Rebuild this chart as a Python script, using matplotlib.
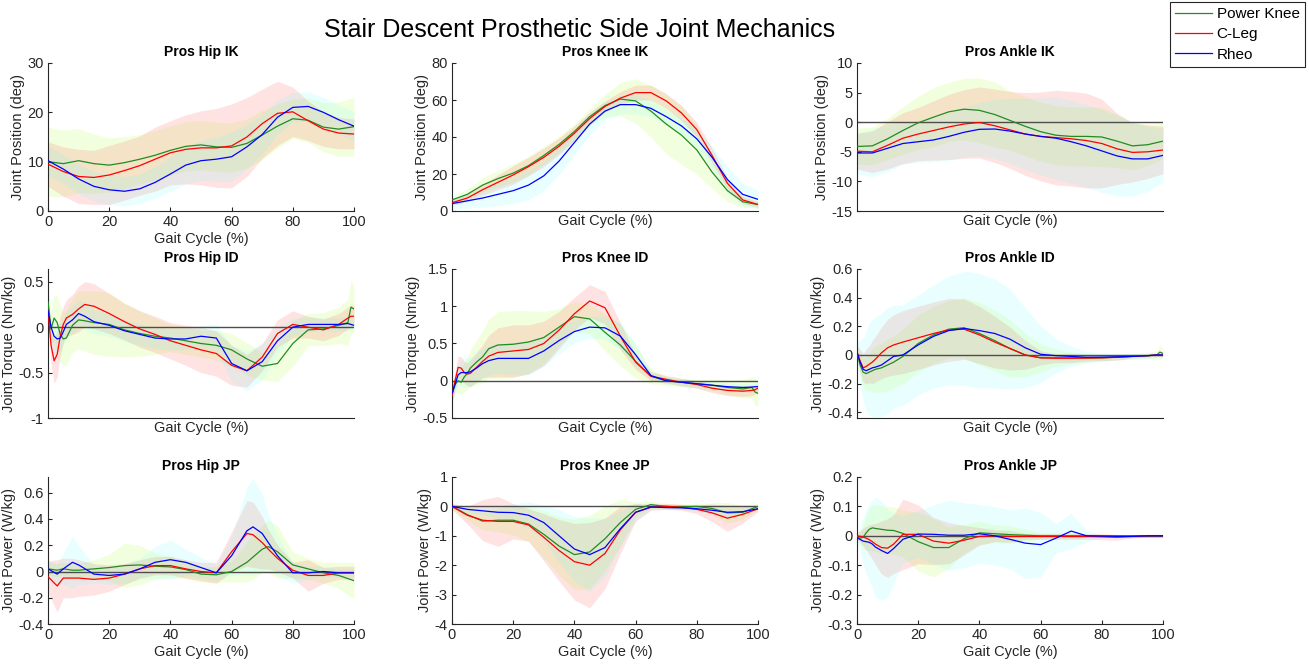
import matplotlib
matplotlib.use("Agg")
import matplotlib.pyplot as plt
from matplotlib.lines import Line2D
from matplotlib.ticker import FuncFormatter

plt.rcParams['font.family'] = ['Liberation Sans', 'DejaVu Sans']
plt.rcParams['axes.unicode_minus'] = False

# ---- gait cycle grids (%) ----
STEP5_X = [0, 5, 10, 15, 20, 25, 30, 35, 40, 45, 50, 55, 60, 65, 70, 75, 80, 85, 90, 95, 100]
ID_X = [0, 1, 2, 3, 4, 5, 6, 8, 10, 12, 15, 20, 25, 30, 35, 40, 45, 50, 55, 60,
        65, 70, 75, 80, 85, 90, 95, 98, 99, 100]
HIP_JP_X = [0, 3, 5, 8, 10, 15, 20, 25, 30, 35, 40, 45, 50, 55, 60, 65, 67, 70, 72, 75,
            80, 85, 90, 95, 100]

devices = ["Power Knee", "C-Leg", "Rheo"]

# ---- Hip IK (deg) ----
hip_ik_pk = [10.0, 9.6, 10.2, 9.6, 9.3, 9.8, 10.5, 11.3, 12.3, 13.1, 13.4, 13.0, 12.9, 13.7, 15.4, 17.2, 18.7, 18.4, 17.0, 16.6, 17.1]
hip_ik_pk_sd = [7.0, 6.8, 6.5, 6.0, 5.5, 5.3, 5.0, 5.0, 5.0, 5.0, 5.0, 5.0, 5.0, 5.0, 5.0, 4.5, 4.0, 4.5, 5.0, 5.5, 6.0]
hip_ik_cl = [9.5, 8.0, 7.0, 6.8, 7.3, 8.2, 9.2, 10.5, 11.8, 12.5, 12.8, 12.8, 13.2, 15.0, 17.7, 19.8, 20.1, 18.3, 16.6, 15.8, 15.6]
hip_ik_cl_sd = [4.5, 5.0, 5.5, 5.5, 6.0, 6.0, 6.0, 6.5, 6.5, 7.0, 7.5, 8.0, 8.5, 8.0, 7.0, 6.5, 5.0, 4.0, 3.5, 3.2, 3.0]
hip_ik_rh = [10.2, 8.5, 6.5, 5.0, 4.3, 4.0, 4.5, 5.8, 7.5, 9.3, 10.2, 10.5, 11.0, 13.0, 15.5, 19.0, 21.0, 21.2, 20.0, 18.5, 17.2]
hip_ik_rh_sd = [3.0, 3.0, 3.0, 3.0, 3.0, 3.0, 3.0, 3.2, 3.5, 3.8, 4.0, 4.5, 5.0, 4.5, 4.0, 3.5, 3.0, 3.0, 3.0, 3.0, 3.0]

# ---- Hip ID (Nm/kg) ----
hip_id_pk = [0.28, -0.02, 0.10, 0.05, -0.08, -0.13, -0.12, 0.02, 0.08, 0.07, 0.05, 0.03, -0.03, -0.07, -0.10,
             -0.12, -0.15, -0.18, -0.20, -0.25, -0.35, -0.43, -0.40, -0.18, -0.03, -0.02, 0.02, 0.05, 0.22, 0.20]
hip_id_pk_sd = [0.15, 0.2, 0.25, 0.3, 0.3, 0.3, 0.3, 0.3, 0.32, 0.33, 0.35, 0.35, 0.3, 0.25, 0.2,
                0.15, 0.15, 0.15, 0.16, 0.18, 0.18, 0.15, 0.2, 0.25, 0.18, 0.18, 0.2, 0.25, 0.3, 0.25]
hip_id_cl = [0.18, -0.2, -0.37, -0.3, -0.1, 0.03, 0.1, 0.14, 0.2, 0.25, 0.23, 0.15, 0.06, -0.02, -0.08,
             -0.15, -0.2, -0.25, -0.29, -0.42, -0.48, -0.33, -0.07, 0.03, 0.0, -0.03, 0.03, 0.1, 0.12, 0.12]
hip_id_cl_sd = [0.15, 0.2, 0.25, 0.25, 0.22, 0.2, 0.2, 0.22, 0.25, 0.25, 0.25, 0.22, 0.2, 0.2, 0.2,
                0.2, 0.22, 0.25, 0.25, 0.22, 0.18, 0.15, 0.15, 0.15, 0.12, 0.12, 0.12, 0.12, 0.12, 0.12]
hip_id_rh = [0.18, 0.0, -0.1, -0.13, -0.12, -0.05, 0.03, 0.08, 0.15, 0.12, 0.06, 0.02, -0.04, -0.08, -0.12,
             -0.13, -0.13, -0.1, -0.12, -0.4, -0.48, -0.38, -0.15, 0.0, 0.03, 0.03, 0.03, 0.04, 0.03, 0.02]
hip_id_rh_sd = [0.1, 0.12, 0.15, 0.15, 0.15, 0.15, 0.15, 0.15, 0.15, 0.15, 0.13, 0.12, 0.12, 0.12, 0.12,
                0.12, 0.12, 0.12, 0.15, 0.2, 0.22, 0.2, 0.15, 0.1, 0.08, 0.07, 0.07, 0.07, 0.07, 0.07]

# ---- Hip JP (W/kg) ----
hip_jp_pk = [0.02, 0.01, 0.02, 0.01, 0.01, 0.02, 0.03, 0.045, 0.05, 0.04, 0.035, 0.015, -0.02, -0.025, 0.0,
             0.07, 0.11, 0.17, 0.19, 0.15, 0.05, 0.02, -0.01, -0.03, -0.07]
hip_jp_pk_sd = [0.05, 0.05, 0.05, 0.05, 0.05, 0.07, 0.1, 0.17, 0.15, 0.1, 0.08, 0.07, 0.06, 0.06, 0.08,
                0.15, 0.17, 0.18, 0.2, 0.2, 0.1, 0.08, 0.08, 0.1, 0.14]
hip_jp_cl = [-0.04, -0.11, -0.05, -0.05, -0.05, -0.06, -0.05, -0.02, 0.02, 0.045, 0.045, 0.02, 0.0, -0.01, 0.15,
             0.29, 0.28, 0.22, 0.17, 0.1, 0.01, -0.03, -0.03, -0.01, -0.01]
hip_jp_cl_sd = [0.12, 0.2, 0.15, 0.15, 0.14, 0.12, 0.1, 0.08, 0.07, 0.07, 0.07, 0.07, 0.07, 0.08, 0.15,
                0.25, 0.25, 0.2, 0.15, 0.1, 0.06, 0.12, 0.06, 0.05, 0.05]
hip_jp_rh = [0.02, -0.02, 0.02, 0.07, 0.05, -0.02, -0.03, -0.02, 0.02, 0.07, 0.09, 0.07, 0.03, -0.01, 0.12,
             0.31, 0.34, 0.29, 0.22, 0.12, -0.01, -0.01, 0.0, -0.01, -0.01]
hip_jp_rh_sd = [0.06, 0.08, 0.12, 0.2, 0.15, 0.07, 0.07, 0.07, 0.08, 0.12, 0.15, 0.1, 0.08, 0.06, 0.15,
                0.33, 0.37, 0.3, 0.22, 0.15, 0.08, 0.05, 0.04, 0.03, 0.03]

# ---- Knee IK (deg) ----
knee_ik_pk = [6.0, 9.0, 14.0, 17.5, 20.5, 24.5, 30.0, 36.0, 43.0, 51.0, 57.0, 60.5, 59.5, 54.0, 47.0, 41.0, 33.0, 21.0, 11.0, 5.0, 3.5]
knee_ik_pk_sd = [2.0, 3.0, 4.0, 4.5, 5.0, 5.0, 5.0, 4.5, 4.0, 4.5, 6.0, 9.0, 12.0, 14.0, 16.0, 16.0, 13.0, 9.0, 6.0, 3.0, 2.0]
knee_ik_cl = [4.5, 7.0, 11.5, 15.5, 19.5, 24.0, 29.0, 35.0, 42.0, 50.0, 56.5, 61.0, 64.0, 64.0, 59.5, 53.0, 44.0, 30.0, 15.0, 6.0, 3.5]
knee_ik_cl_sd = [1.5, 2.0, 3.0, 4.0, 5.0, 5.0, 5.0, 4.5, 4.0, 3.5, 3.0, 3.5, 4.0, 4.0, 4.0, 4.0, 4.0, 4.0, 3.0, 2.0, 1.5]
knee_ik_rh = [4.0, 5.5, 7.0, 9.0, 11.0, 14.0, 19.0, 27.0, 37.0, 47.0, 54.0, 57.5, 57.5, 55.5, 51.0, 46.0, 39.0, 29.0, 17.0, 9.0, 6.3]
knee_ik_rh_sd = [3.0, 4.0, 5.0, 6.0, 7.0, 8.0, 8.0, 7.5, 6.5, 6.0, 5.0, 5.0, 5.0, 4.5, 4.0, 4.0, 5.0, 6.0, 7.0, 6.0, 5.0]

# ---- Knee ID (Nm/kg) ----
knee_id_pk = [-0.18, -0.05, 0.0, -0.02, 0.05, 0.1, 0.17, 0.25, 0.32, 0.43, 0.48, 0.49, 0.52, 0.58, 0.72,
              0.86, 0.83, 0.65, 0.48, 0.26, 0.06, 0.0, -0.02, -0.04, -0.06, -0.09, -0.11, -0.09, -0.15, -0.17]
knee_id_pk_sd = [0.1, 0.12, 0.15, 0.18, 0.2, 0.22, 0.25, 0.3, 0.35, 0.4, 0.45, 0.45, 0.42, 0.35, 0.25,
                 0.2, 0.2, 0.25, 0.28, 0.22, 0.1, 0.06, 0.06, 0.06, 0.08, 0.1, 0.12, 0.15, 0.18, 0.18]
knee_id_cl = [-0.2, 0.0, 0.18, 0.17, 0.11, 0.09, 0.1, 0.18, 0.26, 0.33, 0.38, 0.4, 0.42, 0.5, 0.68,
              0.9, 1.07, 0.98, 0.6, 0.25, 0.06, 0.02, -0.02, -0.05, -0.1, -0.13, -0.14, -0.13, -0.12, -0.1]
knee_id_cl_sd = [0.1, 0.12, 0.15, 0.15, 0.15, 0.15, 0.18, 0.2, 0.22, 0.28, 0.33, 0.35, 0.33, 0.3, 0.25,
                 0.22, 0.22, 0.22, 0.18, 0.1, 0.06, 0.05, 0.05, 0.05, 0.06, 0.07, 0.07, 0.07, 0.06, 0.06]
knee_id_rh = [-0.17, -0.05, 0.08, 0.11, 0.11, 0.11, 0.12, 0.17, 0.23, 0.27, 0.3, 0.3, 0.3, 0.4, 0.54,
              0.66, 0.72, 0.71, 0.6, 0.35, 0.07, 0.0, -0.02, -0.04, -0.06, -0.08, -0.09, -0.085, -0.08, -0.08]
knee_id_rh_sd = [0.1, 0.12, 0.15, 0.18, 0.2, 0.2, 0.2, 0.2, 0.2, 0.2, 0.2, 0.22, 0.22, 0.2, 0.18,
                 0.15, 0.15, 0.15, 0.18, 0.15, 0.06, 0.05, 0.05, 0.05, 0.05, 0.05, 0.05, 0.05, 0.05, 0.05]

# ---- Knee JP (W/kg) ----
knee_jp_pk = [0.0, -0.28, -0.5, -0.47, -0.47, -0.6, -0.95, -1.35, -1.64, -1.55, -1.1, -0.55, -0.1, 0.06, 0.0, -0.02, 0.0, -0.07, -0.22, -0.2, 0.0]
knee_jp_pk_sd = [0.1, 0.2, 0.3, 0.4, 0.5, 0.6, 0.8, 1.0, 1.2, 1.25, 1.1, 0.8, 0.25, 0.12, 0.1, 0.1, 0.1, 0.2, 0.35, 0.25, 0.1]
knee_jp_cl = [0.0, -0.3, -0.47, -0.51, -0.51, -0.63, -1.05, -1.5, -1.88, -2.0, -1.6, -0.8, -0.2, -0.03, 0.0, -0.03, -0.1, -0.22, -0.4, -0.27, -0.08]
knee_jp_cl_sd = [0.1, 0.3, 0.7, 0.85, 0.6, 0.55, 0.8, 1.05, 1.3, 1.45, 1.2, 0.8, 0.3, 0.1, 0.1, 0.1, 0.15, 0.3, 0.45, 0.3, 0.1]
knee_jp_rh = [0.0, -0.1, -0.15, -0.2, -0.21, -0.3, -0.55, -1.0, -1.45, -1.64, -1.4, -0.76, -0.2, -0.02, -0.04, -0.05, -0.08, -0.13, -0.2, -0.18, -0.08]
knee_jp_rh_sd = [0.05, 0.1, 0.15, 0.2, 0.3, 0.45, 0.6, 0.9, 1.1, 1.25, 1.0, 0.6, 0.3, 0.1, 0.05, 0.05, 0.08, 0.12, 0.15, 0.12, 0.05]

# ---- Ankle IK (deg) ----
ankle_ik_pk = [-4.1, -4.0, -2.8, -1.4, -0.1, 0.85, 1.75, 2.2, 2.0, 1.3, 0.3, -0.7, -1.6, -2.2, -2.4, -2.4, -2.5, -3.2, -4.0, -3.8, -3.2]
ankle_ik_pk_sd = [3.0, 3.2, 3.5, 4.0, 4.5, 5.0, 5.0, 5.2, 5.5, 5.5, 5.0, 5.0, 5.0, 5.0, 5.0, 5.0, 5.0, 4.5, 4.0, 3.5, 3.0]
ankle_ik_cl = [-4.9, -5.0, -3.9, -2.7, -2.0, -1.4, -0.8, -0.3, -0.05, -0.6, -1.3, -2.0, -2.4, -2.6, -2.8, -3.1, -3.6, -4.5, -5.1, -5.0, -4.7]
ankle_ik_cl_sd = [3.0, 3.5, 4.0, 4.3, 4.5, 5.0, 5.5, 5.8, 6.0, 6.2, 6.5, 7.0, 7.5, 8.0, 8.0, 8.0, 7.5, 6.0, 5.0, 4.5, 4.0]
ankle_ik_rh = [-5.2, -5.2, -4.4, -3.6, -3.3, -3.0, -2.4, -1.7, -1.2, -1.15, -1.5, -2.0, -2.4, -2.7, -3.3, -4.0, -4.85, -5.7, -6.2, -6.2, -5.6]
ankle_ik_rh_sd = [3.5, 4.0, 4.0, 3.5, 3.5, 3.7, 4.0, 4.2, 4.5, 5.0, 5.5, 6.0, 6.5, 7.0, 7.0, 7.0, 7.0, 6.8, 6.3, 5.5, 4.5]

# ---- Ankle ID (Nm/kg) ----
ankle_id_pk = [0.02, -0.07, -0.12, -0.13, -0.12, -0.11, -0.1, -0.09, -0.07, -0.05, -0.01, 0.08, 0.14, 0.18, 0.19,
               0.15, 0.1, 0.045, 0.0, -0.02, -0.02, -0.02, -0.02, -0.02, -0.015, -0.01, -0.005, 0.0, 0.02, 0.01]
ankle_id_pk_sd = [0.05, 0.08, 0.1, 0.12, 0.13, 0.15, 0.16, 0.17, 0.18, 0.18, 0.19, 0.2, 0.2, 0.2, 0.21,
                  0.22, 0.21, 0.2, 0.15, 0.1, 0.06, 0.04, 0.03, 0.02, 0.02, 0.02, 0.02, 0.03, 0.05, 0.03]
ankle_id_cl = [0.02, -0.04, -0.09, -0.08, -0.065, -0.05, -0.03, 0.015, 0.05, 0.07, 0.09, 0.12, 0.15, 0.175, 0.18,
               0.14, 0.09, 0.045, 0.0, -0.02, -0.023, -0.023, -0.022, -0.02, -0.016, -0.01, -0.005, 0.0, 0.0, 0.0]
ankle_id_cl_sd = [0.05, 0.08, 0.1, 0.12, 0.13, 0.15, 0.16, 0.18, 0.2, 0.21, 0.22, 0.22, 0.22, 0.22, 0.21,
                  0.2, 0.18, 0.15, 0.1, 0.05, 0.03, 0.03, 0.02, 0.02, 0.02, 0.01, 0.01, 0.01, 0.01, 0.01]
ankle_id_rh = [0.02, -0.05, -0.1, -0.11, -0.1, -0.09, -0.085, -0.07, -0.04, -0.01, 0.0, 0.07, 0.13, 0.17, 0.185,
               0.17, 0.15, 0.11, 0.05, 0.005, -0.005, -0.01, -0.016, -0.015, -0.013, -0.01, -0.005, 0.0, 0.0, 0.0]
ankle_id_rh_sd = [0.08, 0.15, 0.22, 0.28, 0.32, 0.34, 0.35, 0.36, 0.37, 0.36, 0.35, 0.35, 0.36, 0.38, 0.4,
                  0.4, 0.38, 0.35, 0.28, 0.2, 0.12, 0.07, 0.04, 0.03, 0.02, 0.02, 0.02, 0.02, 0.02, 0.02]

# ---- Ankle JP (W/kg) ----
ankle_jp_pk = [-0.003, -0.008, -0.005, 0.01, 0.022, 0.027, 0.025, 0.022, 0.019, 0.018, 0.008, -0.02, -0.04, -0.04, -0.01,
               0.01, 0.007, 0.004, 0.002, 0.0, 0.0, 0.0, 0.0, 0.0, 0.0, 0.0, 0.0, 0.0, 0.0, 0.0]
ankle_jp_pk_sd = [0.01, 0.02, 0.04, 0.06, 0.07, 0.08, 0.08, 0.08, 0.08, 0.08, 0.08, 0.1, 0.1, 0.07, 0.05,
                  0.04, 0.03, 0.03, 0.02, 0.01, 0.01, 0.01, 0.005, 0.005, 0.005, 0.005, 0.005, 0.005, 0.005, 0.005]
ankle_jp_cl = [0.0, -0.002, -0.004, -0.008, -0.013, -0.02, -0.028, -0.04, -0.042, -0.028, 0.005, 0.005, -0.018, -0.025, -0.015,
               -0.002, 0.0, -0.002, -0.002, -0.002, -0.002, -0.002, -0.002, -0.003, -0.005, -0.002, 0.0, 0.0, 0.0, 0.0]
ankle_jp_cl_sd = [0.01, 0.02, 0.03, 0.04, 0.05, 0.06, 0.07, 0.09, 0.1, 0.1, 0.12, 0.1, 0.08, 0.07, 0.05,
                  0.03, 0.02, 0.02, 0.01, 0.01, 0.01, 0.01, 0.01, 0.01, 0.01, 0.005, 0.005, 0.005, 0.005, 0.005]
ankle_jp_rh = [-0.007, -0.012, -0.018, -0.02, -0.022, -0.028, -0.038, -0.05, -0.06, -0.043, -0.012, 0.006, 0.005, 0.002, 0.002,
               0.007, 0.0, -0.012, -0.025, -0.03, -0.008, 0.016, 0.0, -0.001, -0.002, -0.002, 0.0, 0.0, 0.0, 0.0]
ankle_jp_rh_sd = [0.01, 0.04, 0.08, 0.11, 0.13, 0.15, 0.17, 0.17, 0.15, 0.12, 0.08, 0.08, 0.1, 0.12, 0.11,
                  0.1, 0.1, 0.1, 0.12, 0.11, 0.05, 0.06, 0.02, 0.005, 0.005, 0.005, 0.005, 0.005, 0.005, 0.005]

line_colors = [(0.13, 0.55, 0.13), (1.0, 0.0, 0.0), (0.0, 0.0, 1.0)]
fill_colors = [(0.7, 1.0, 0.2), (1.0, 0.35, 0.35), (0.35, 1.0, 1.0)]
fill_alphas = [0.16, 0.17, 0.13]
text_gray = (0.15, 0.15, 0.15)

# panel: (title, ylabel, x, series, ylim, yticks, show xticks, zero line)
panels = [
    ("Pros Hip IK", "Joint Position (deg)", STEP5_X,
     [(hip_ik_pk, hip_ik_pk_sd), (hip_ik_cl, hip_ik_cl_sd), (hip_ik_rh, hip_ik_rh_sd)],
     (0, 30), [0, 10, 20, 30], True, False),
    ("Pros Knee IK", "Joint Position (deg)", STEP5_X,
     [(knee_ik_pk, knee_ik_pk_sd), (knee_ik_cl, knee_ik_cl_sd), (knee_ik_rh, knee_ik_rh_sd)],
     (0, 80), [0, 20, 40, 60, 80], False, False),
    ("Pros Ankle IK", "Joint Position (deg)", STEP5_X,
     [(ankle_ik_pk, ankle_ik_pk_sd), (ankle_ik_cl, ankle_ik_cl_sd), (ankle_ik_rh, ankle_ik_rh_sd)],
     (-15, 10), [-15, -10, -5, 0, 5, 10], False, True),
    ("Pros Hip ID", "Joint Torque (Nm/kg)", ID_X,
     [(hip_id_pk, hip_id_pk_sd), (hip_id_cl, hip_id_cl_sd), (hip_id_rh, hip_id_rh_sd)],
     (-1, 0.64), [-1, -0.5, 0, 0.5], False, True),
    ("Pros Knee ID", "Joint Torque (Nm/kg)", ID_X,
     [(knee_id_pk, knee_id_pk_sd), (knee_id_cl, knee_id_cl_sd), (knee_id_rh, knee_id_rh_sd)],
     (-0.5, 1.5), [-0.5, 0, 0.5, 1, 1.5], False, True),
    ("Pros Ankle ID", "Joint Torque (Nm/kg)", ID_X,
     [(ankle_id_pk, ankle_id_pk_sd), (ankle_id_cl, ankle_id_cl_sd), (ankle_id_rh, ankle_id_rh_sd)],
     (-0.44, 0.6), [-0.4, -0.2, 0, 0.2, 0.4, 0.6], False, True),
    ("Pros Hip JP", "Joint Power (W/kg)", HIP_JP_X,
     [(hip_jp_pk, hip_jp_pk_sd), (hip_jp_cl, hip_jp_cl_sd), (hip_jp_rh, hip_jp_rh_sd)],
     (-0.4, 0.72), [-0.4, -0.2, 0, 0.2, 0.4, 0.6], True, True),
    ("Pros Knee JP", "Joint Power (W/kg)", STEP5_X,
     [(knee_jp_pk, knee_jp_pk_sd), (knee_jp_cl, knee_jp_cl_sd), (knee_jp_rh, knee_jp_rh_sd)],
     (-4, 1), [-4, -3, -2, -1, 0, 1], True, True),
    ("Pros Ankle JP", "Joint Power (W/kg)", ID_X,
     [(ankle_jp_pk, ankle_jp_pk_sd), (ankle_jp_cl, ankle_jp_cl_sd), (ankle_jp_rh, ankle_jp_rh_sd)],
     (-0.3, 0.2), [-0.3, -0.2, -0.1, 0, 0.1, 0.2], True, True),
]

W, H = 1309, 666
fig = plt.figure(figsize=(W / 100, H / 100), dpi=100)

col_left = [48, 452, 857]
col_width = 306
row_top = [63, 269, 477]
row_bottom = [211, 418, 624]

for i, (title, ylabel, x, series, ylim, yticks, show_x, zero) in enumerate(panels):
    r, c = divmod(i, 3)
    ax = fig.add_axes([col_left[c] / W, 1 - row_bottom[r] / H,
                       col_width / W, (row_bottom[r] - row_top[r]) / H])
    for k, (m, sd) in enumerate(series):
        lo = [a - b for a, b in zip(m, sd)]
        hi = [a + b for a, b in zip(m, sd)]
        ax.fill_between(x, lo, hi, color=fill_colors[k], alpha=fill_alphas[k], lw=0)
    if zero:
        ax.axhline(0, color=(0.3, 0.3, 0.3), lw=1.0, zorder=2)
    for k, (m, sd) in enumerate(series):
        ax.plot(x, m, color=line_colors[k], lw=0.9, zorder=3)

    ax.set_xlim(0, 100)
    ax.set_ylim(*ylim)
    ax.set_yticks(yticks)
    ax.yaxis.set_major_formatter(FuncFormatter(lambda v, p: f"{v:g}"))
    if show_x:
        ax.set_xticks([0, 20, 40, 60, 80, 100])
    else:
        ax.set_xticks([])
    ax.set_title(title, fontsize=10, fontweight='bold', pad=5, color='black')
    ax.set_ylabel(ylabel, fontsize=10.5, color=text_gray, labelpad=2)
    ax.set_xlabel("Gait Cycle (%)", fontsize=10.5, color=text_gray, labelpad=2)
    for s in ['top', 'right']:
        ax.spines[s].set_visible(False)
    for s in ['left', 'bottom']:
        ax.spines[s].set_color(text_gray)
        ax.spines[s].set_linewidth(0.8)
    ax.tick_params(direction='in', length=3, width=0.8, colors=text_gray,
                   labelsize=10.5, labelcolor=text_gray, pad=3)

fig.text(580 / W, 1 - 30 / H, "Stair Descent Prosthetic Side Joint Mechanics",
         ha='center', va='center', fontsize=18, color='black')

handles = [Line2D([], [], color=line_colors[k], lw=0.9) for k in range(3)]
leg = fig.legend(handles, devices, loc='upper right', bbox_to_anchor=(1305 / W, 1 - 2 / H),
                 frameon=True, fancybox=False, edgecolor=text_gray, framealpha=1,
                 fontsize=11, handlelength=2.4, borderaxespad=0, borderpad=0.35,
                 labelspacing=0.4, handletextpad=0.3)
leg.get_frame().set_linewidth(0.8)

fig.savefig("out.png", dpi=100)
